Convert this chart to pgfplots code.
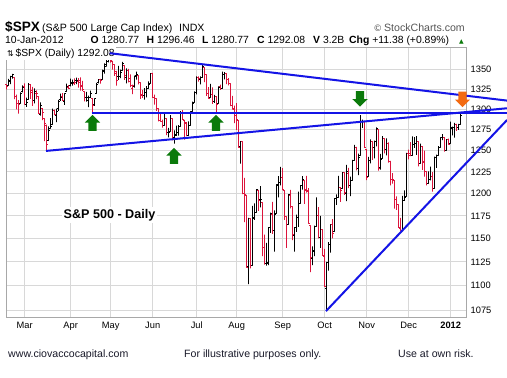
\documentclass[border=0pt]{standalone}
\usepackage{fontspec}
\setmainfont{Liberation Sans}
\newfontfamily\symfont{DejaVu Sans}
\usepackage{pgfplots}
\usepackage{pgfplotstable}
\pgfplotsset{compat=1.18}

\definecolor{barred}{HTML}{DC143C}
\definecolor{gridc}{HTML}{D8D8D8}
\definecolor{framec}{HTML}{A8A8A8}
\definecolor{tlblue}{HTML}{1414E6}
\definecolor{agreen}{HTML}{0B7A0B}
\definecolor{aorange}{HTML}{F36B12}
\definecolor{scgray}{HTML}{555555}
\definecolor{foot}{HTML}{1A1A2A}

% i = trading day (0 = 1 Mar 2011), o h l c, d = 1 if close below previous close
\pgfplotstableread{
i o h l c d
-9 1330.4 1330.4 1324.6 1328.0 1
-8 1329.5 1337.6 1329.5 1336.3 0
-7 1334.4 1341.5 1331.0 1340.4 0
-6 1340.4 1344.1 1338.1 1343.0 0
-5 1338.9 1338.9 1312.3 1315.4 1
-4 1315.4 1317.9 1299.6 1307.4 1
-3 1307.1 1310.9 1294.3 1306.1 1
-2 1307.3 1320.6 1307.3 1319.9 0
-1 1321.6 1329.4 1320.6 1327.2 0
0 1328.6 1332.1 1305.4 1306.3 1
1 1305.5 1314.2 1302.6 1308.4 0
2 1312.4 1332.3 1312.4 1331.0 0
3 1330.7 1331.1 1312.6 1321.2 1
4 1322.7 1327.7 1304.0 1310.1 1
5 1311.1 1325.7 1306.9 1321.8 0
6 1319.9 1323.2 1312.3 1320.0 1
7 1315.7 1315.7 1294.2 1295.1 1
8 1293.4 1308.4 1292.0 1304.3 0
9 1301.2 1301.2 1286.4 1296.4 1
10 1288.5 1288.5 1261.1 1281.9 1
11 1279.5 1280.9 1249.1 1256.9 1
12 1261.6 1278.9 1261.6 1273.7 0
13 1276.7 1288.9 1276.2 1279.2 0
14 1281.6 1300.6 1281.6 1298.4 0
15 1298.3 1299.4 1292.7 1293.8 1
16 1292.2 1300.5 1284.1 1297.5 0
17 1300.6 1311.3 1297.7 1309.7 0
18 1311.8 1319.2 1310.2 1313.8 0
19 1315.5 1319.7 1310.2 1310.2 1
20 1309.4 1319.5 1305.3 1319.4 0
21 1321.9 1331.7 1321.9 1328.3 0
22 1327.4 1329.8 1325.0 1325.8 1
23 1329.5 1337.9 1328.1 1332.4 0
24 1333.6 1336.7 1329.1 1332.9 0
25 1332.0 1338.2 1330.0 1332.6 1
26 1335.9 1339.4 1331.1 1335.5 0
27 1334.8 1338.8 1326.6 1333.5 1
28 1336.2 1339.5 1322.9 1328.2 1
29 1329.0 1335.2 1322.6 1324.5 1
30 1322.0 1322.0 1309.5 1314.2 1
31 1314.0 1321.4 1309.2 1314.4 0
32 1311.1 1316.8 1302.4 1314.5 0
33 1314.5 1322.9 1313.7 1319.7 0
34 1313.4 1313.4 1294.7 1305.1 1
35 1306.0 1312.7 1304.0 1312.6 0
36 1319.1 1332.7 1319.1 1330.4 0
37 1333.2 1337.5 1332.0 1337.4 0
38 1337.1 1337.6 1331.7 1335.3 1
39 1336.8 1349.6 1336.8 1347.2 0
40 1348.4 1357.5 1344.3 1355.7 0
41 1353.9 1361.7 1353.6 1360.5 0
42 1360.1 1364.6 1358.7 1363.6 0
43 1365.2 1370.6 1358.6 1361.2 1
44 1359.8 1360.8 1349.5 1356.6 1
45 1355.9 1355.9 1341.5 1347.3 1
46 1344.2 1348.0 1329.2 1335.1 1
47 1340.2 1354.4 1336.4 1340.2 0
48 1340.2 1349.4 1338.6 1346.3 0
49 1348.3 1359.4 1348.3 1357.2 0
50 1354.5 1354.5 1336.4 1342.1 1
51 1339.4 1351.1 1332.0 1348.7 0
52 1348.7 1350.5 1333.4 1337.8 1
53 1334.8 1343.3 1327.3 1329.5 1
54 1326.1 1330.4 1318.5 1329.0 1
55 1328.5 1341.8 1326.6 1340.7 0
56 1342.4 1346.8 1336.9 1343.6 0
57 1342.0 1342.0 1330.7 1333.3 1
58 1333.1 1333.1 1312.6 1317.4 1
59 1317.7 1323.7 1313.9 1316.3 1
60 1316.4 1325.9 1311.8 1320.5 0
61 1320.6 1328.5 1314.4 1325.7 0
62 1325.7 1334.6 1325.7 1331.1 0
63 1331.7 1345.2 1331.7 1345.2 0
64 1345.2 1345.2 1313.7 1314.6 1
65 1314.6 1318.0 1305.6 1312.9 1
66 1312.9 1312.9 1297.9 1300.2 1
67 1300.3 1300.3 1284.9 1286.2 1
68 1286.3 1296.2 1284.7 1284.9 1
69 1284.6 1287.0 1277.4 1279.6 1
70 1279.6 1294.5 1279.6 1289.0 0
71 1288.3 1288.3 1268.3 1271.0 1
72 1271.3 1277.0 1265.6 1271.8 0
73 1272.2 1292.5 1272.2 1287.9 0
74 1287.9 1287.9 1261.9 1265.4 1
75 1265.5 1274.1 1258.1 1267.6 0
76 1268.6 1279.8 1267.4 1271.5 0
77 1271.5 1280.4 1267.6 1278.4 0
78 1278.4 1297.6 1278.4 1295.5 0
79 1295.5 1298.6 1286.8 1287.1 1
80 1286.6 1286.8 1262.9 1283.5 1
81 1283.0 1283.9 1267.2 1268.4 1
82 1268.4 1284.9 1267.5 1280.1 0
83 1280.2 1296.8 1280.2 1296.7 0
84 1296.8 1309.2 1296.8 1307.4 0
85 1307.6 1322.0 1307.6 1320.6 0
86 1320.6 1341.0 1318.3 1339.7 0
87 1339.6 1340.9 1334.3 1337.9 1
88 1337.6 1340.9 1330.9 1339.2 0
89 1339.6 1356.5 1339.6 1353.2 0
90 1352.4 1352.4 1333.7 1343.8 1
91 1343.3 1343.3 1316.4 1319.5 1
92 1319.6 1327.2 1313.3 1313.6 1
93 1314.5 1331.5 1314.5 1317.7 0
94 1317.7 1326.9 1306.5 1308.9 1
95 1308.9 1317.7 1307.5 1316.1 0
96 1315.9 1315.9 1295.9 1305.4 1
97 1307.1 1328.1 1307.1 1326.7 0
98 1328.7 1330.4 1323.7 1325.8 1
99 1325.6 1347.0 1325.6 1343.8 0
100 1343.8 1346.1 1337.0 1345.0 0
101 1344.3 1344.3 1331.1 1337.4 1
102 1337.4 1338.5 1329.6 1331.9 1
103 1331.9 1331.9 1303.5 1304.9 1
104 1304.8 1316.3 1299.2 1300.7 1
105 1300.1 1304.2 1282.9 1292.3 1
106 1292.6 1307.4 1274.7 1286.9 1
107 1286.6 1286.6 1254.0 1254.1 1
108 1254.3 1261.2 1234.6 1260.3 0
109 1260.2 1260.2 1199.5 1200.1 1
110 1200.3 1218.1 1168.1 1199.4 1
111 1198.5 1198.5 1119.3 1119.5 1
112 1120.2 1172.9 1101.5 1172.5 0
113 1171.8 1171.8 1118.0 1120.8 1
114 1121.3 1186.3 1121.3 1172.6 0
115 1172.9 1189.0 1170.7 1178.8 0
116 1178.9 1204.5 1178.9 1204.5 0
117 1204.2 1204.2 1180.5 1192.8 1
118 1192.9 1208.5 1184.4 1193.9 0
119 1189.6 1189.6 1131.0 1140.7 1
120 1140.5 1154.5 1122.1 1123.5 1
121 1123.6 1145.5 1121.1 1123.8 0
122 1124.4 1162.4 1121.6 1162.4 0
123 1162.2 1178.6 1156.3 1177.6 0
124 1176.7 1190.7 1155.1 1159.3 1
125 1158.9 1181.2 1135.9 1176.8 0
126 1177.9 1210.3 1177.9 1210.1 0
127 1209.8 1220.1 1195.8 1212.9 0
128 1213.0 1230.7 1209.4 1218.9 0
129 1219.1 1229.3 1203.9 1204.4 1
130 1203.9 1203.9 1170.6 1174.0 1
131 1174.0 1174.0 1140.1 1165.2 1
132 1165.9 1198.6 1165.9 1198.6 0
133 1198.0 1204.4 1183.3 1185.9 1
134 1185.4 1185.4 1148.4 1154.2 1
135 1153.5 1162.5 1136.1 1162.3 0
136 1162.6 1176.4 1157.4 1172.9 0
137 1173.3 1202.4 1162.7 1188.7 0
138 1189.4 1209.1 1189.4 1209.1 0
139 1209.2 1220.1 1204.5 1216.0 0
140 1215.0 1215.0 1188.4 1204.1 1
141 1204.5 1220.4 1201.2 1202.1 1
142 1203.6 1206.3 1166.8 1166.8 1
143 1164.6 1164.6 1114.2 1129.6 1
144 1128.8 1141.7 1121.4 1136.4 0
145 1136.9 1164.2 1131.1 1163.0 0
146 1163.3 1195.9 1163.3 1175.4 0
147 1175.4 1184.7 1150.4 1151.1 1
148 1151.7 1175.1 1139.9 1160.4 0
149 1159.9 1159.9 1131.3 1131.4 1
150 1131.2 1139.0 1098.9 1099.2 1
151 1097.4 1125.1 1074.8 1124.0 0
152 1124.0 1146.1 1115.7 1144.0 0
153 1144.1 1165.6 1135.0 1165.0 0
154 1165.0 1171.4 1150.3 1155.5 1
155 1158.2 1194.9 1158.2 1194.9 0
156 1194.6 1199.2 1187.3 1195.5 0
157 1196.2 1220.3 1196.2 1207.3 0
158 1207.0 1207.5 1190.6 1203.7 1
159 1205.7 1224.6 1205.7 1224.6 0
160 1224.5 1224.5 1198.6 1200.9 1
161 1200.8 1233.1 1191.5 1225.4 0
162 1223.5 1229.6 1206.3 1209.9 1
163 1209.9 1219.4 1197.3 1215.4 0
164 1215.4 1239.0 1215.4 1238.3 0
165 1238.7 1256.6 1238.7 1254.2 0
166 1254.2 1254.2 1226.8 1229.1 1
167 1229.2 1246.3 1221.1 1242.0 0
168 1244.0 1292.7 1244.0 1284.6 0
169 1284.4 1287.1 1277.0 1285.1 0
170 1285.0 1285.0 1253.2 1253.3 1
171 1251.0 1251.0 1215.4 1218.3 1
172 1219.6 1242.5 1219.6 1237.9 0
173 1238.2 1263.2 1234.8 1261.2 0
174 1260.8 1260.8 1238.9 1253.2 1
175 1253.2 1261.7 1240.8 1261.1 0
176 1261.1 1277.6 1255.0 1275.9 0
177 1275.2 1275.2 1226.6 1229.1 1
178 1229.6 1246.2 1227.7 1239.7 0
179 1240.1 1267.0 1240.1 1263.9 0
180 1263.9 1263.9 1246.7 1251.8 1
181 1251.7 1264.3 1244.3 1257.8 0
182 1257.8 1259.6 1235.7 1236.9 1
183 1236.6 1237.7 1209.4 1216.1 1
184 1216.2 1223.5 1211.4 1215.7 1
185 1215.6 1215.6 1183.2 1193.0 1
186 1193.0 1196.8 1181.7 1188.0 1
187 1187.5 1187.5 1161.8 1161.8 1
188 1161.4 1172.7 1158.7 1158.7 1
189 1158.7 1197.4 1158.7 1192.6 0
190 1192.6 1203.7 1191.8 1195.2 0
191 1196.7 1247.1 1196.7 1247.0 0
192 1246.9 1251.1 1239.7 1244.6 1
193 1246.0 1260.1 1243.4 1244.3 1
194 1244.3 1266.7 1244.3 1257.1 0
195 1257.2 1266.0 1253.0 1258.5 0
196 1258.1 1267.1 1244.8 1261.0 0
197 1260.9 1260.9 1231.5 1234.4 1
198 1234.5 1258.3 1234.5 1255.2 0
199 1255.1 1255.1 1227.3 1236.5 1
200 1236.8 1249.9 1219.4 1225.7 1
201 1225.7 1225.7 1209.5 1211.8 1
202 1212.1 1225.6 1212.1 1215.8 0
203 1216.1 1231.0 1215.2 1219.7 0
204 1219.7 1224.6 1202.4 1205.4 1
205 1205.7 1242.8 1205.7 1241.3 0
206 1241.3 1245.1 1229.5 1243.7 0
207 1243.7 1255.2 1243.7 1254.0 0
208 1254.0 1265.4 1254.0 1265.3 0
209 1265.0 1269.4 1262.3 1265.4 0
210 1265.4 1265.9 1248.6 1249.6 1
211 1249.8 1263.5 1249.8 1263.0 0
212 1262.8 1264.1 1257.5 1257.6 1
213 1258.9 1284.6 1258.9 1277.1 0
214 1277.0 1278.7 1268.1 1277.3 0
215 1277.3 1283.1 1265.3 1281.1 0
216 1280.9 1281.8 1273.3 1277.8 1
217 1277.8 1282.0 1274.6 1280.7 0
218 1280.8 1296.5 1280.8 1292.1 0
}\ohlc

\newcommand\uparr[3]{% color, x, tip value
  \fill[#1] (axis cs:#2,#3) -- ++(canvas cs:x=7.6bp,y=-7.7bp) -- ++(canvas cs:x=-3.5bp,y=0bp)
    -- ++(canvas cs:x=0bp,y=-8.3bp) -- ++(canvas cs:x=-8.2bp,y=0bp) -- ++(canvas cs:x=0bp,y=8.3bp)
    -- ++(canvas cs:x=-3.5bp,y=0bp) -- cycle;}
\newcommand\downarr[3]{% color, x, tip value
  \fill[#1] (axis cs:#2,#3) -- ++(canvas cs:x=7.6bp,y=7.5bp) -- ++(canvas cs:x=-3.5bp,y=0bp)
    -- ++(canvas cs:x=0bp,y=8bp) -- ++(canvas cs:x=-8.2bp,y=0bp) -- ++(canvas cs:x=0bp,y=-8bp)
    -- ++(canvas cs:x=-3.5bp,y=0bp) -- cycle;}

\begin{document}
\begin{tikzpicture}
\path[use as bounding box] (0,0) rectangle (507bp,378bp);
\fill[white] (0,0) rectangle (507bp,378bp);
\begin{axis}[
  at={(6bp,61bp)}, anchor=south west,
  scale only axis, width=460bp, height=270bp,
  ymode=log,
  xmin=-9.35, xmax=220.65,
  ymin=1067.9, ymax=1378.8,
  clip=false,
  axis line style={framec, line width=0.8bp},
  grid=major,
  major grid style={gridc, line width=0.8bp},
  xtick={0,23,43,64,86,106,129,150,171,192,213},
  xticklabels={Mar,Apr,May,Jun,Jul,Aug,Sep,Oct,Nov,Dec,\textbf{2012}},
  ytick={1075,1100,1125,1150,1175,1200,1225,1250,1275,1300,1325,1350},
  yticklabels={1075,1100,1125,1150,1175,1200,1225,1250,1275,1300,1325,1350},
  xtick pos=bottom, ytick pos=right,
  yticklabel pos=right,
  major tick length=0pt,
  minor tick num=0,
  xticklabel style={font=\fontsize{9.3bp}{11bp}\selectfont, inner sep=0pt, anchor=north, yshift=-5bp},
  yticklabel style={font=\fontsize{9.3bp}{11bp}\selectfont, inner sep=0pt, anchor=west, xshift=4.5bp},
  /pgf/number format/assume math mode=true,
]
% OHLC bars: open tick, high-low bar, close tick, one polyline per day
\pgfplotstablegetrowsof{\ohlc}
\pgfmathtruncatemacro\lastrow{\pgfplotsretval-1}
\pgfplotsforeachungrouped \r in {0,...,\lastrow}{%
  \pgfplotstablegetelem{\r}{i}\of\ohlc \edef\vi{\pgfplotsretval}%
  \pgfplotstablegetelem{\r}{o}\of\ohlc \edef\vo{\pgfplotsretval}%
  \pgfplotstablegetelem{\r}{h}\of\ohlc \edef\vh{\pgfplotsretval}%
  \pgfplotstablegetelem{\r}{l}\of\ohlc \edef\vl{\pgfplotsretval}%
  \pgfplotstablegetelem{\r}{c}\of\ohlc \edef\vc{\pgfplotsretval}%
  \pgfplotstablegetelem{\r}{d}\of\ohlc \edef\vd{\pgfplotsretval}%
  \pgfmathsetmacro\va{\vi-0.7}%
  \pgfmathsetmacro\vb{\vi+0.7}%
  \ifnum\vd=1 \def\col{barred}\else\def\col{black}\fi
  \edef\tmp{\noexpand\addplot[\col, line width=0.9bp, line join=bevel, mark=none, forget plot] coordinates {(\va,\vo) (\vi,\vo) (\vi,\vl) (\vi,\vh) (\vi,\vc) (\vb,\vc)};}%
  \tmp
}

% legend box
\node[fill=white, anchor=north west, inner xsep=1bp, inner ysep=1.5bp,
  font=\fontsize{10.3bp}{12bp}\selectfont] at (rel axis cs:0,1)
  {{\symfont\fontsize{8bp}{10bp}\selectfont ⇅}\,\$SPX (Daily) 1292.08};

% annotation text
\node[fill=white, inner sep=2bp, font=\fontsize{12.6bp}{14bp}\selectfont\bfseries]
  at (axis cs:42.4,1176) {S\&P 500 - Daily};

% trend lines
\addplot[tlblue, line width=2bp] coordinates {(42.5,1370.6) (241.2,1310.5)};
\addplot[tlblue, line width=2bp] coordinates {(33.5,1295.6) (241.2,1295.6)};
\addplot[tlblue, line width=2bp] coordinates {(10.65,1249.5) (241.2,1301)};
\addplot[tlblue, line width=2bp] coordinates {(150.65,1073.8) (241.2,1286.7)};

% arrows
\uparr{agreen}{33.9}{1292.9}
\uparr{agreen}{74.65}{1253.1}
\uparr{agreen}{95.65}{1292.9}
\downarr{agreen}{167.65}{1303}
\downarr{aorange}{218.9}{1302.5}
\end{axis}

% header
\node[anchor=base west, inner sep=0pt, font=\fontsize{13.6bp}{15bp}\selectfont\bfseries] at (5bp,346.3bp) {\$SPX};
\node[anchor=base west, inner sep=0pt, font=\fontsize{10.6bp}{12bp}\selectfont] at (42bp,346.3bp) {(S\&P 500 Large Cap Index)};
\node[anchor=base west, inner sep=0pt, font=\fontsize{10.6bp}{12bp}\selectfont] at (179bp,346.3bp) {INDX};
\node[anchor=base east, inner sep=0pt, text=scgray, font=\fontsize{10.6bp}{12bp}\selectfont] at (465bp,346.3bp) {{\symfont\fontsize{9bp}{10bp}\selectfont ©}\,StockCharts.com};

\begin{scope}[every node/.style={anchor=base west, inner sep=0pt, font=\fontsize{10.4bp}{12bp}\selectfont}]
\node at (5bp,334.5bp) {10-Jan-2012};
\node at (90.5bp,334.5bp) {\textbf{O} 1280.77};
\node at (146.5bp,334.5bp) {\textbf{H} 1296.46};
\node at (202bp,334.5bp) {\textbf{L} 1280.77};
\node at (257bp,334.5bp) {\textbf{C} 1292.08};
\node at (313bp,334.5bp) {\textbf{V} 3.2B};
\node at (349bp,334.5bp) {\textbf{Chg} +11.38 (+0.89\%)};
\node[text=agreen] at (459bp,334.5bp) {{\symfont\fontsize{6bp}{7bp}\selectfont ▲}};
\end{scope}

% footer
\begin{scope}[every node/.style={anchor=base west, inner sep=0pt, text=foot, font=\fontsize{10.6bp}{12bp}\selectfont}]
\node at (8bp,21bp) {www.ciovaccocapital.com};
\node at (184bp,21bp) {For illustrative purposes only.};
\node at (398bp,21bp) {Use at own risk.};
\end{scope}
\end{tikzpicture}
\end{document}
